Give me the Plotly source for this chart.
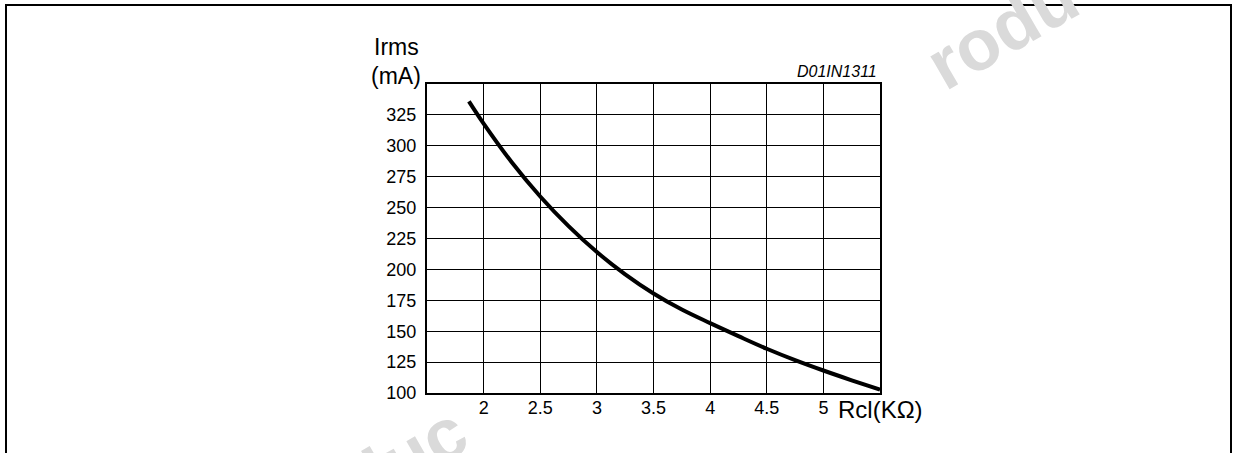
import plotly.graph_objects as go

# ---- data ----
rcl_kohm = [1.87, 2.0, 2.25, 2.5, 2.75, 3.0, 3.25, 3.5, 3.75, 4.0, 4.25, 4.5, 4.75, 5.0, 5.25, 5.5]
irms_ma = [336, 318, 286.5, 259, 235, 214, 196, 180.5, 167.5, 156.5, 146, 135.8, 126.6, 118.2, 110.3, 102.7]
x_ticks = [2, 2.5, 3, 3.5, 4, 4.5, 5]
x_tick_labels = ["2", "2.5", "3", "3.5", "4", "4.5", "5"]
y_ticks = [100, 125, 150, 175, 200, 225, 250, 275, 300, 325]
y_tick_labels = ["100", "125", "150", "175", "200", "225", "250", "275", "300", "325"]

W, H = 1237, 453
ML, MR, MT, MB = 427, 357, 84, 60
PW, PH = W - ML - MR, H - MT - MB


def px_x(px):
    return (px - ML) / PW


def px_y(py):
    return (H - MB - py) / PH


FONT = "Liberation Sans, Arial, Helvetica, sans-serif"

fig = go.Figure()
fig.add_trace(go.Scatter(
    x=rcl_kohm, y=irms_ma, mode="lines",
    line=dict(color="black", width=4, shape="spline", smoothing=1.0),
    hoverinfo="skip", showlegend=False,
))

fig.update_layout(
    width=W, height=H,
    margin=dict(l=ML, r=MR, t=MT, b=MB, pad=0),
    paper_bgcolor="white", plot_bgcolor="white",
    font=dict(family=FONT, color="black", size=18),
    showlegend=False,
)
fig.update_xaxes(
    range=[1.5, 5.5], tickvals=x_ticks, ticktext=x_tick_labels,
    showgrid=True, gridcolor="black", gridwidth=1,
    showline=True, linecolor="black", linewidth=2, mirror=True,
    ticks="", ticklabelstandoff=-3, zeroline=False,
    tickfont=dict(size=18, family=FONT),
)
fig.update_yaxes(
    range=[100, 350], tickvals=y_ticks, ticktext=y_tick_labels,
    showgrid=True, gridcolor="black", gridwidth=1,
    showline=True, linecolor="black", linewidth=2, mirror=True,
    ticks="", ticklabelstandoff=5, zeroline=False,
    tickfont=dict(size=18, family=FONT),
)

annotations = [
    # faint background watermark fragments
    dict(text="<b>rodu</b>", x=px_x(1002), y=px_y(30), xanchor="center", yanchor="middle",
         textangle=-30, font=dict(size=72, family=FONT, color="#dadada")),
    dict(text="<b>duc</b>", x=px_x(405), y=px_y(457), xanchor="center", yanchor="middle",
         textangle=-30, font=dict(size=72, family=FONT, color="#dadada")),
    dict(text="Irms", x=px_x(421), y=px_y(62), xanchor="right", yanchor="bottom",
         font=dict(size=23, family=FONT)),
    dict(text="(mA)", x=px_x(423), y=px_y(91), xanchor="right", yanchor="bottom",
         font=dict(size=23, family=FONT)),
    dict(text="<i>D01IN1311</i>", x=px_x(879), y=px_y(82), xanchor="right", yanchor="bottom",
         font=dict(size=16, family=FONT)),
    dict(text="Rcl(KΩ)", x=px_x(836), y=px_y(409), xanchor="left", yanchor="middle",
         font=dict(size=24, family=FONT)),
]
for a in annotations:
    a.update(xref="paper", yref="paper", showarrow=False)
fig.update_layout(annotations=annotations)

# outer frame of the page
fig.add_shape(type="rect", xref="paper", yref="paper",
              x0=px_x(6), x1=px_x(1231), y0=px_y(470), y1=px_y(5),
              line=dict(color="black", width=2), fillcolor="rgba(0,0,0,0)", layer="below")

fig.write_html("out.html", config={"displayModeBar": False},
               post_script="document.body.style.margin='0px';")
